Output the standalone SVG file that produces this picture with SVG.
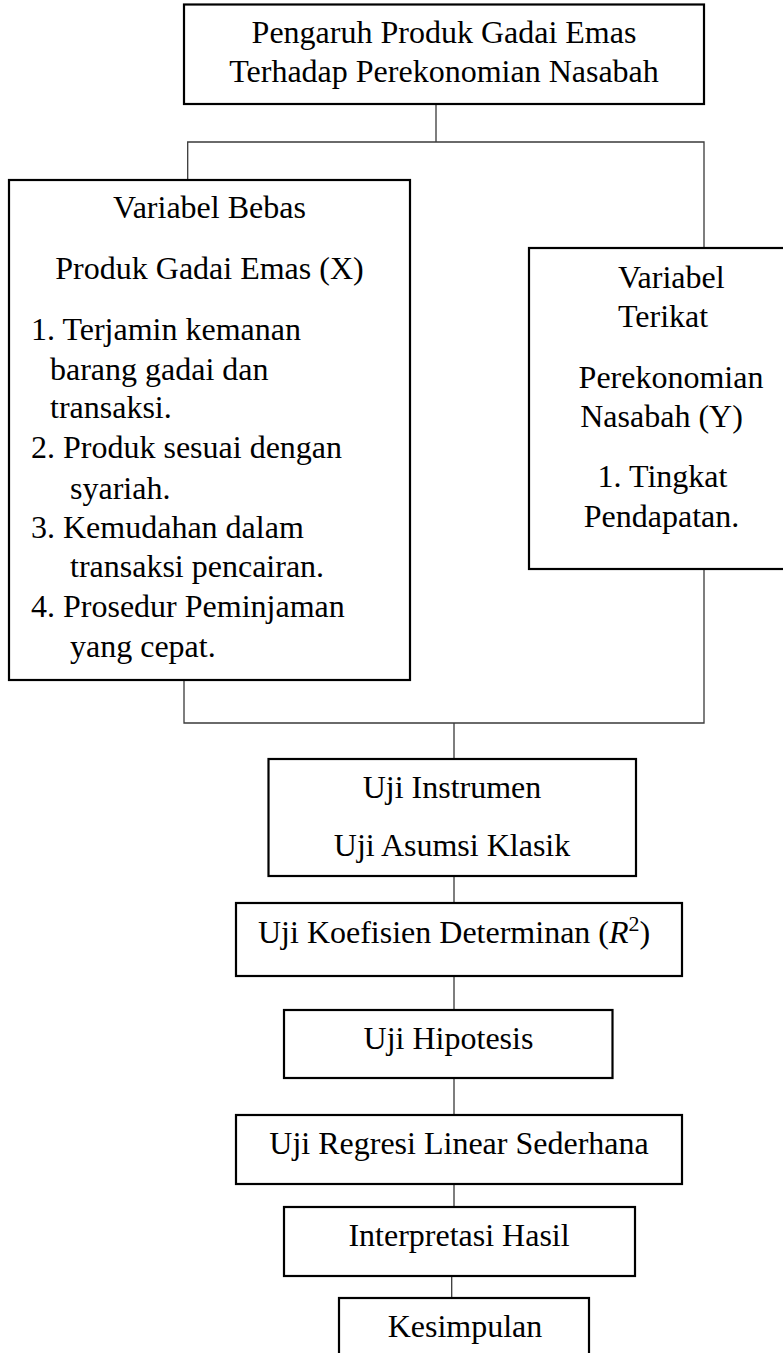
<svg xmlns="http://www.w3.org/2000/svg" width="783" height="1353" viewBox="0 0 783 1353">
<style>
.box{fill:#fff;stroke:#000;stroke-width:2.2}
.con{fill:none;stroke:#3a3a3a;stroke-width:1.3}
text{font-family:"Liberation Serif","Times New Roman",serif;font-size:32px;fill:#000}
.c{text-anchor:middle}
</style>
<rect width="783" height="1353" fill="#fff"/>
<g id="connectors">
<path class="con" d="M436,104 V142 M187.7,180 V142 H704 V248"/>
<path class="con" d="M184,680 V723 H704 V569 M454,723 V759"/>
<path class="con" d="M454,876 V903 M454,976 V1010 M454,1078 V1115 M454,1184 V1207 M451.7,1276 V1298"/>
</g>
<g id="node-judul">
<rect class="box" x="184" y="4.5" width="520" height="99.5"/>
<text class="c" x="444" y="43">Pengaruh Produk Gadai Emas</text>
<text class="c" x="444" y="82">Terhadap Perekonomian Nasabah</text>
</g>
<g id="node-x">
<rect class="box" x="9" y="180" width="401" height="500"/>
<text class="c" x="209.5" y="218">Variabel Bebas</text>
<text class="c" x="209.5" y="279">Produk Gadai Emas (X)</text>
<text x="31" y="340">1. Terjamin kemanan</text>
<text x="50" y="380">barang gadai dan</text>
<text x="50" y="418">transaksi.</text>
<text x="31" y="458">2. Produk sesuai dengan</text>
<text x="70" y="499">syariah.</text>
<text x="31" y="538">3. Kemudahan dalam</text>
<text x="70" y="577">transaksi pencairan.</text>
<text x="31" y="617">4. Prosedur Peminjaman</text>
<text x="70" y="657">yang cepat.</text>
</g>
<g id="node-y">
<rect class="box" x="529" y="248" width="270" height="321"/>
<text x="618" y="288">Variabel</text>
<text x="618" y="327">Terikat</text>
<text class="c" x="671" y="388">Perekonomian</text>
<text class="c" x="661.5" y="427">Nasabah (Y)</text>
<text class="c" x="662.5" y="487">1. Tingkat</text>
<text class="c" x="661.5" y="527">Pendapatan.</text>
</g>
<g id="node-uji-instrumen">
<rect class="box" x="268.5" y="759" width="367.5" height="117"/>
<text class="c" x="452" y="798">Uji Instrumen</text>
<text class="c" x="452" y="856">Uji Asumsi Klasik</text>
</g>
<g id="node-r2">
<rect class="box" x="236" y="903" width="446" height="73"/>
<text x="258" y="943">Uji Koefisien Determinan (<tspan font-style="italic">R</tspan><tspan font-size="22" dy="-12">2</tspan><tspan dy="12">)</tspan></text>
</g>
<g id="node-hipotesis">
<rect class="box" x="284" y="1010" width="328.5" height="68"/>
<text class="c" x="448.5" y="1049">Uji Hipotesis</text>
</g>
<g id="node-regresi">
<rect class="box" x="236" y="1115" width="446" height="69"/>
<text class="c" x="459" y="1154">Uji Regresi Linear Sederhana</text>
</g>
<g id="node-interpretasi">
<rect class="box" x="284" y="1207" width="351" height="69"/>
<text class="c" x="459" y="1246">Interpretasi Hasil</text>
</g>
<g id="node-kesimpulan">
<rect class="box" x="339" y="1298" width="250" height="70"/>
<text class="c" x="465" y="1337">Kesimpulan</text>
</g>
</svg>
